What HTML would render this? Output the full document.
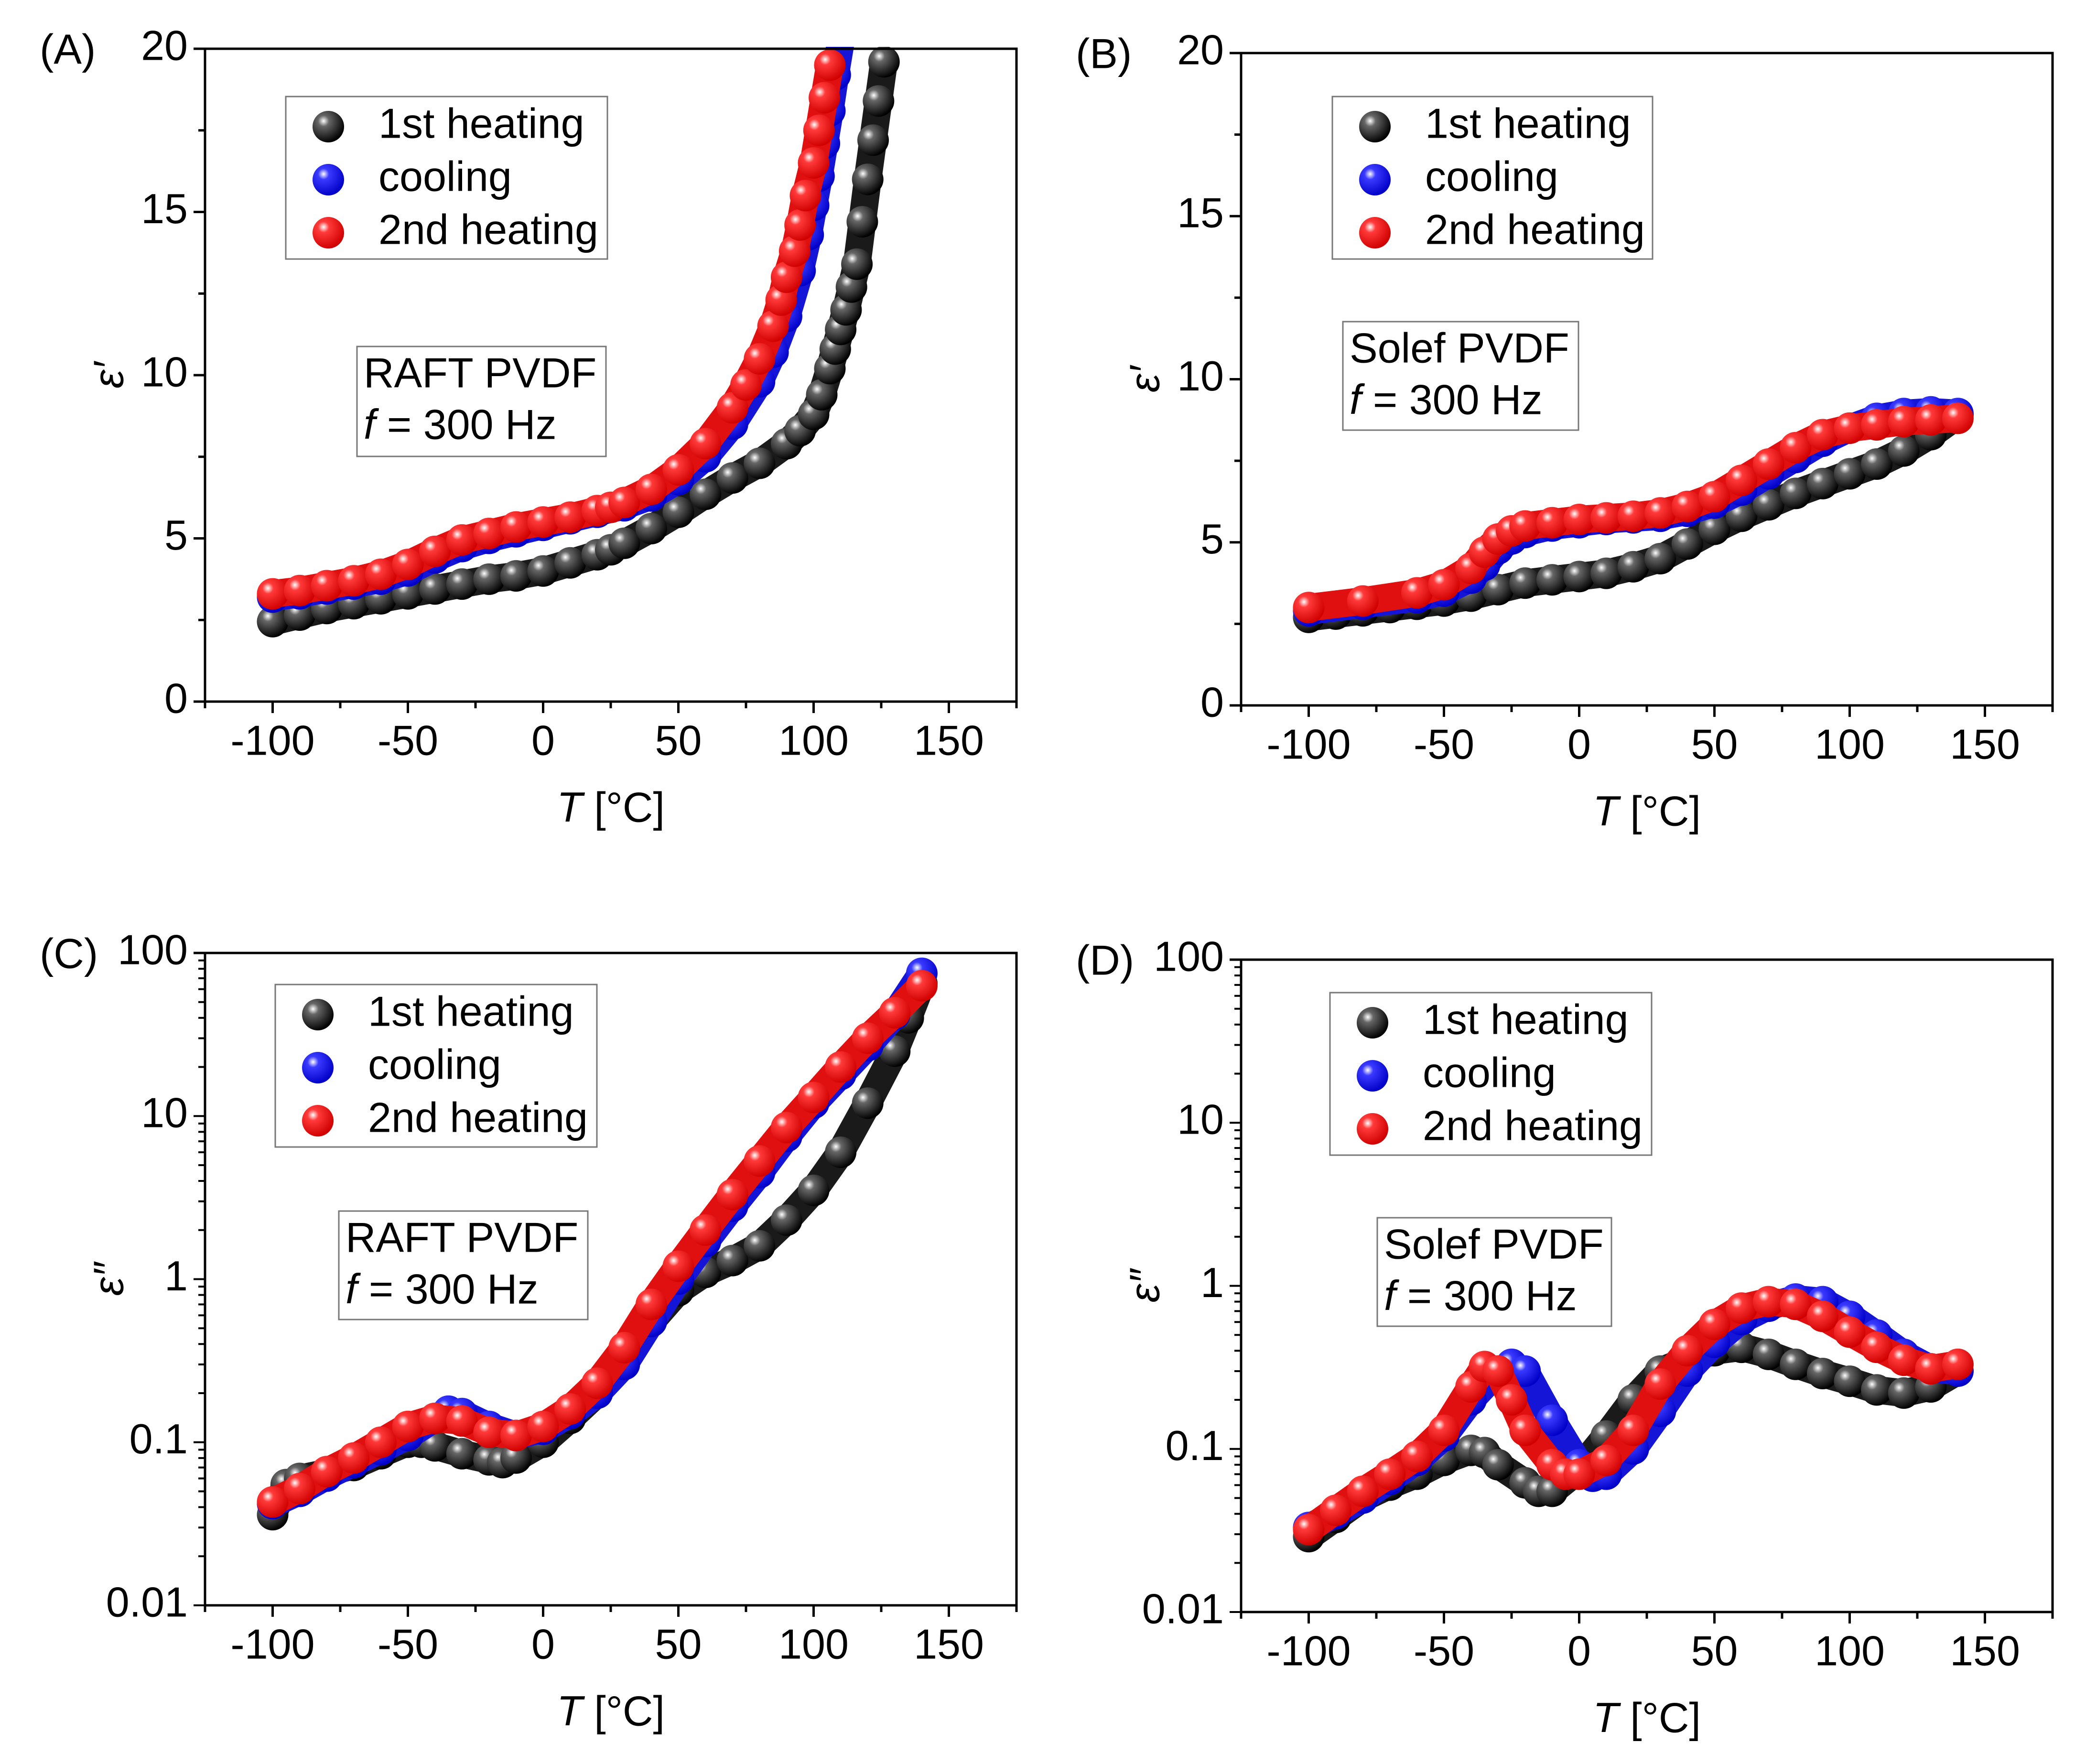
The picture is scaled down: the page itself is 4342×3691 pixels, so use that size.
<!DOCTYPE html>
<html><head><meta charset="utf-8">
<style>
html,body{margin:0;padding:0;background:#fff;}
svg{display:block;font-family:"Liberation Sans",sans-serif;}
</style></head>
<body>
<svg id="fig" width="4342" height="3691" viewBox="0 0 4342 3691" xmlns="http://www.w3.org/2000/svg">
<defs>
<radialGradient id="gk" cx="0.35" cy="0.32" r="0.7"><stop offset="0" stop-color="#fff"/><stop offset="0.25" stop-color="#666"/><stop offset="1" stop-color="#000"/></radialGradient>
<radialGradient id="gb" cx="0.35" cy="0.32" r="0.7"><stop offset="0" stop-color="#fff"/><stop offset="0.25" stop-color="#3a3aff"/><stop offset="1" stop-color="#0000c8"/></radialGradient>
<radialGradient id="gr" cx="0.35" cy="0.32" r="0.7"><stop offset="0" stop-color="#fff"/><stop offset="0.25" stop-color="#ff3a3a"/><stop offset="1" stop-color="#d00000"/></radialGradient>
</defs>
</svg>
<script>
// ---- data ----
const tA_black = [-100,-90,-80,-70,-60,-50,-40,-30,-20,-10,0,10,20,25,30,40,50,60,70,80,90,95,100,103,106,108,110,112,114,116,118,120,122,124,126];
const vA_black = [2.45,2.65,2.85,3.0,3.15,3.3,3.45,3.6,3.75,3.85,4.0,4.25,4.5,4.65,4.85,5.3,5.8,6.35,6.85,7.3,7.9,8.3,8.8,9.4,10.2,10.8,11.4,12.0,12.7,13.4,14.7,16.0,17.2,18.4,19.6];
const tA_blue = [-100,-90,-80,-70,-60,-50,-40,-30,-20,-10,0,10,20,30,40,50,60,70,80,85,90,95,98,100,102,104,106,108,110];
const vA_blue = [3.2,3.3,3.45,3.6,3.75,4.0,4.4,4.75,5.0,5.2,5.4,5.6,5.8,6.0,6.3,6.8,7.5,8.5,9.8,10.7,11.8,13.2,14.3,15.2,16.1,17.1,18.1,19.2,20.2];
const tA_red = [-100,-90,-80,-70,-60,-50,-40,-30,-20,-10,0,10,20,25,30,40,50,60,70,75,80,85,88,90,93,95,97,100,102,104,106];
const vA_red = [3.3,3.4,3.55,3.7,3.9,4.2,4.6,4.95,5.15,5.35,5.5,5.65,5.85,5.95,6.1,6.5,7.1,7.9,9.0,9.7,10.5,11.5,12.3,13.0,13.8,14.6,15.5,16.5,17.5,18.5,19.5];

const tB_black = [-100,-90,-80,-70,-60,-50,-40,-30,-20,-10,0,10,20,30,40,50,60,70,80,90,100,110,120,130,140];
const vB_black = [2.7,2.8,2.9,3.0,3.1,3.2,3.35,3.55,3.75,3.85,3.95,4.05,4.25,4.5,4.95,5.4,5.8,6.15,6.5,6.8,7.1,7.4,7.8,8.3,8.9];
const tB_blue = [-100,-80,-60,-50,-40,-35,-30,-25,-20,-10,0,10,20,30,40,50,60,70,80,90,100,110,120,130,140];
const vB_blue = [2.9,3.1,3.3,3.5,3.9,4.3,4.8,5.1,5.3,5.5,5.6,5.7,5.75,5.8,5.95,6.2,6.6,7.1,7.6,8.1,8.5,8.8,8.95,9.0,8.95];
const tB_red = [-100,-80,-60,-50,-40,-35,-30,-25,-20,-10,0,10,20,30,40,50,60,70,80,90,100,110,120,130,140];
const vB_red = [3.0,3.2,3.45,3.7,4.2,4.7,5.1,5.35,5.5,5.6,5.7,5.75,5.8,5.9,6.1,6.4,6.9,7.4,7.9,8.3,8.5,8.6,8.7,8.75,8.8];

const tC_black = [-100,-95,-90,-80,-70,-60,-50,-45,-40,-30,-20,-15,-10,0,10,20,30,40,50,60,70,80,90,100,110,120,130,135,140];
const vC_black = [0.036,0.055,0.06,0.065,0.072,0.085,0.1,0.1,0.095,0.085,0.078,0.075,0.08,0.1,0.14,0.2,0.33,0.55,0.85,1.1,1.3,1.6,2.3,3.5,6,12,25,40,65];
const tC_blue = [-100,-90,-80,-70,-60,-50,-40,-35,-30,-20,-10,0,10,20,30,40,50,60,70,80,90,100,110,120,130,140];
const vC_blue = [0.042,0.05,0.062,0.075,0.09,0.11,0.14,0.155,0.15,0.125,0.11,0.12,0.15,0.2,0.3,0.55,1.0,1.7,2.8,4.5,7.5,12,18,27,42,75];
const tC_red = [-100,-90,-80,-70,-60,-50,-40,-30,-20,-10,0,10,20,30,40,50,60,70,80,90,100,110,120,130,140];
const vC_red = [0.043,0.052,0.066,0.08,0.1,0.125,0.14,0.135,0.115,0.11,0.125,0.16,0.23,0.38,0.7,1.2,2.0,3.3,5.3,8.5,13,20,30,43,63];

const tD_black = [-100,-90,-80,-70,-60,-50,-40,-35,-30,-20,-15,-10,0,10,20,30,40,50,60,70,80,90,100,110,120,130,140];
const vD_black = [0.029,0.038,0.05,0.06,0.07,0.085,0.098,0.095,0.08,0.062,0.055,0.055,0.075,0.12,0.2,0.3,0.35,0.4,0.42,0.38,0.33,0.29,0.26,0.23,0.22,0.24,0.3];
const tD_blue = [-100,-90,-80,-70,-60,-50,-40,-30,-25,-20,-10,0,5,10,20,30,40,50,60,70,80,90,100,110,120,130,140];
const vD_blue = [0.033,0.04,0.05,0.065,0.085,0.12,0.2,0.3,0.33,0.3,0.15,0.08,0.068,0.07,0.1,0.17,0.3,0.45,0.62,0.75,0.83,0.8,0.65,0.5,0.38,0.31,0.3];
const tD_red = [-100,-90,-80,-70,-60,-50,-40,-35,-30,-25,-20,-10,-5,0,10,20,30,40,50,60,70,80,90,100,110,120,130,140];
const vD_red = [0.032,0.042,0.055,0.07,0.09,0.13,0.24,0.32,0.3,0.2,0.13,0.08,0.07,0.07,0.085,0.13,0.25,0.4,0.58,0.73,0.8,0.77,0.65,0.52,0.42,0.35,0.31,0.33];

const xTicks = [-100,-50,0,50,100,150];
const yTicksLin = [0,5,10,15,20];
const yTicksLog = [0.01,0.1,1,10,100];
const legendLabels = ["1st heating","cooling","2nd heating"];

// ---- drawing ----
const NS="http://www.w3.org/2000/svg";
const svg=document.getElementById('fig');
function mk(tag,attrs,parent){const e=document.createElementNS(NS,tag);for(const k in attrs)e.setAttribute(k,attrs[k]);(parent||svg).appendChild(e);return e;}

const panels=[
 {id:'a',label:'(A)',L:429,R:2127,T:102,B:1468,log:false,ymin:0,ymax:20,yl:"ε′",legX:169,legY:100,legW:673,legH:340,boxX:318,boxY:623,boxW:521,boxH:230,name:"RAFT PVDF",
  series:[[tA_black,vA_black],[tA_blue,vA_blue],[tA_red,vA_red]]},
 {id:'b',label:'(B)',L:2597,R:4295,T:111,B:1476,log:false,ymin:0,ymax:20,yl:"ε′",legX:191,legY:91,legW:670,legH:340,boxX:213,boxY:562,boxW:493,boxH:227,name:"Solef PVDF",
  series:[[tB_black,vB_black],[tB_blue,vB_blue],[tB_red,vB_red]]},
 {id:'c',label:'(C)',L:429,R:2127,T:1994,B:3359,log:true,ymin:0.01,ymax:100,yl:"ε″",legX:147,legY:66,legW:673,legH:340,boxX:280,boxY:540,boxW:521,boxH:227,name:"RAFT PVDF",
  series:[[tC_black,vC_black],[tC_blue,vC_blue],[tC_red,vC_red]]},
 {id:'d',label:'(D)',L:2597,R:4295,T:2008,B:3373,log:true,ymin:0.01,ymax:100,yl:"ε″",legX:186,legY:69,legW:673,legH:340,boxX:285,boxY:540,boxW:490,boxH:227,name:"Solef PVDF",
  series:[[tD_black,vD_black],[tD_blue,vD_blue],[tD_red,vD_red]]}
];
const grads=['url(#gk)','url(#gb)','url(#gr)'];
const lineCols=['#1a1a1a','#1515d8','#e01010'];
const sNames=['first-heating','cooling','second-heating'];
const FS=88, R=33;

panels.forEach(p=>{
 const g=mk('g',{});
 
 
 const X=t=>p.L+(t+125)/300*(p.R-p.L);
 const Y=v=>p.log? p.B-(Math.log10(v)-Math.log10(p.ymin))/(Math.log10(p.ymax)-Math.log10(p.ymin))*(p.B-p.T)
                 : p.B-(v-p.ymin)/(p.ymax-p.ymin)*(p.B-p.T);
 p.series.forEach((s,i)=>{
  const sg=mk('g',{},g);
  
  
  const [ts,vs]=s;
  let d='';
  ts.forEach((t,j)=>{const y=Math.max(p.T-30,Y(vs[j]));d+=(j?'L':'M')+X(t).toFixed(1)+' '+y.toFixed(1);});
  const pl=mk('path',{d:d,fill:'none',stroke:lineCols[i],'stroke-width':58,'stroke-linejoin':'round','stroke-linecap':'round'},sg);
  
  
  ts.forEach((t,j)=>{
   const y=Y(vs[j]); if(y<p.T-10) return;
   const c=mk('circle',{cx:X(t).toFixed(1),cy:y.toFixed(1),r:R,fill:grads[i]},sg);
   
   
  });
 });
 mk('rect',{x:p.L-40,y:p.T-90,width:p.R-p.L+80,height:86,fill:'#fff'},g);
 const fr=mk('rect',{x:p.L,y:p.T,width:p.R-p.L,height:p.B-p.T,fill:'none',stroke:'#000','stroke-width':5},g);
 
 
 for(let t=-125;t<=175;t+=25){
  const major=(t%50===0);
  mk('line',{x1:X(t),x2:X(t),y1:p.B,y2:p.B+(major?24:14),stroke:'#000','stroke-width':5},g);
 }
 xTicks.forEach(t=>{
  const tx=mk('text',{x:X(t),y:p.B+88,'font-size':FS,'text-anchor':'middle','dominant-baseline':'middle'},g);
  tx.textContent=t;
  
  
 });
 if(!p.log){
  for(let v=0;v<=20;v+=2.5){const major=(v%5===0);mk('line',{x1:p.L,x2:p.L-(major?24:14),y1:Y(v),y2:Y(v),stroke:'#000','stroke-width':5},g);}
 } else {
  for(let e=-2;e<2;e++){for(let m=1;m<10;m++){const v=m*Math.pow(10,e);mk('line',{x1:p.L,x2:p.L-(m===1?24:14),y1:Y(v),y2:Y(v),stroke:'#000','stroke-width':4},g);}}
  mk('line',{x1:p.L,x2:p.L-24,y1:Y(100),y2:Y(100),stroke:'#000','stroke-width':5},g);
 }
 (p.log?yTicksLog:yTicksLin).forEach(v=>{
  const tx=mk('text',{x:p.L-36,y:Y(v),'font-size':FS,'text-anchor':'end','dominant-baseline':'middle'},g);
  tx.textContent=v;
  
  
 });
 const xt=mk('text',{x:(p.L+p.R)/2,y:p.B+228,'font-size':FS,'text-anchor':'middle','dominant-baseline':'middle'},g);
 xt.innerHTML='<tspan font-style="italic">T</tspan> [°C]';
 
 
 const cy=(p.T+p.B)/2, cx=p.L-195;
 const yt=mk('text',{x:cx,y:cy,'font-size':FS,'text-anchor':'middle','dominant-baseline':'middle','font-style':'italic',transform:'rotate(-90 '+cx+' '+cy+')'},g);
 yt.textContent=p.yl;
 
 
 const pl=mk('text',{x:p.L-346,y:p.T+8,'font-size':FS,'dominant-baseline':'middle'},g);
 pl.textContent=p.label;
 
 
 const lg=mk('g',{},g);
 
 
 mk('rect',{x:p.L+p.legX,y:p.T+p.legY,width:p.legW,height:p.legH,fill:'#fff',stroke:'#777','stroke-width':3},lg);
 legendLabels.forEach((lab,i)=>{
  const ry=p.T+p.legY+63+i*111;
  const c=mk('circle',{cx:p.L+p.legX+89,cy:ry,r:R,fill:grads[i]},lg);
  
  
  const t=mk('text',{x:p.L+p.legX+194,y:ry,'font-size':FS,'dominant-baseline':'middle'},lg);
  t.textContent=lab;
  
  
 });
 const ab=mk('g',{},g);
 
 
 mk('rect',{x:p.L+p.boxX,y:p.T+p.boxY,width:p.boxW,height:p.boxH,fill:'#fff',stroke:'#777','stroke-width':3},ab);
 const t1=mk('text',{x:p.L+p.boxX+14,y:p.T+p.boxY+62,'font-size':FS,'dominant-baseline':'middle'},ab);
 t1.textContent=p.name;
 const t2=mk('text',{x:p.L+p.boxX+14,y:p.T+p.boxY+170,'font-size':FS,'dominant-baseline':'middle'},ab);
 t2.innerHTML='<tspan font-style="italic">f</tspan> = 300 Hz';
});
</script>
</body></html>
